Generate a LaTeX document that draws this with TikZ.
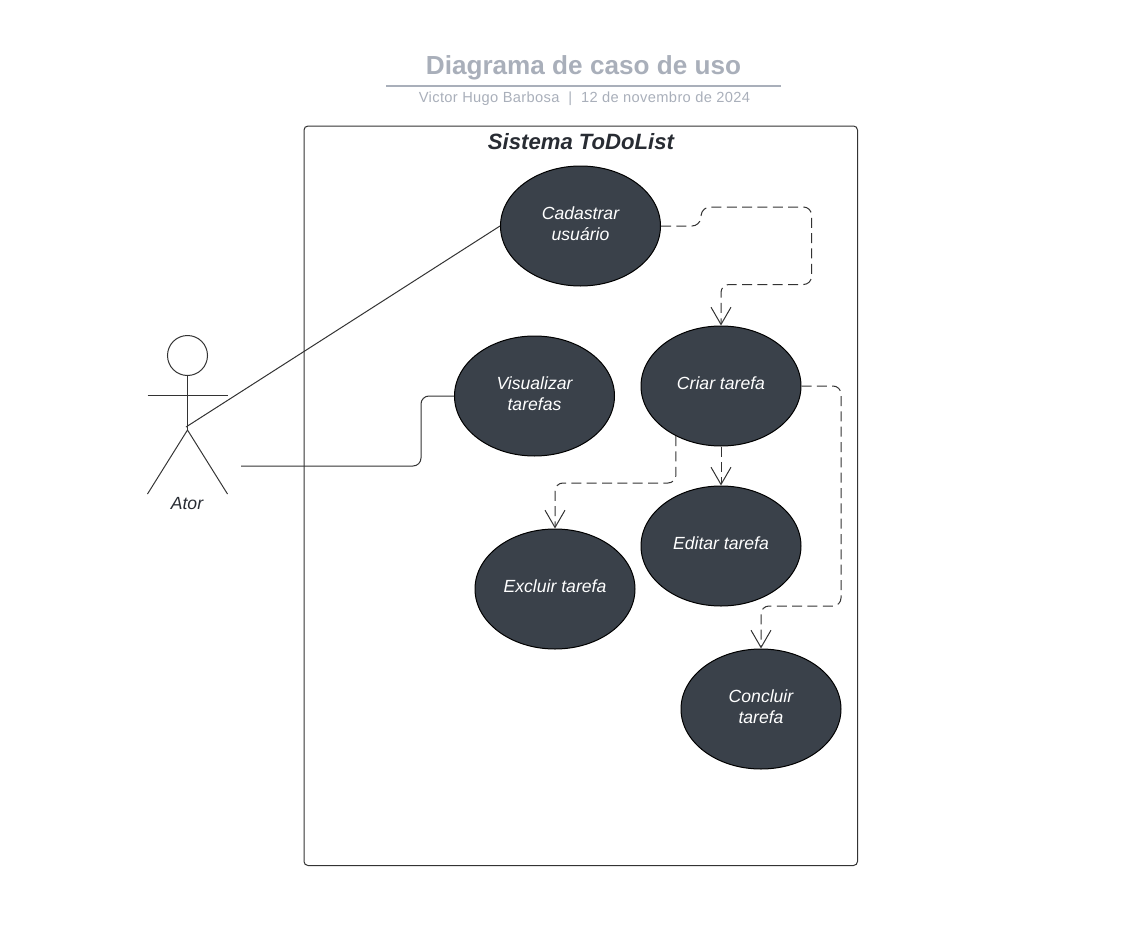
\documentclass[tikz,border=0pt]{standalone}
\usepackage{fontspec}
\setmainfont{Liberation Sans}
\newfontfamily\subfont[LetterSpace=2.4]{Liberation Sans}
\usetikzlibrary{shapes.geometric,arrows.meta}
\definecolor{ucfill}{HTML}{3A414A}
\definecolor{ucline}{HTML}{333333}
\definecolor{titlegrey}{HTML}{A9AFBA}
\definecolor{syscolor}{HTML}{282C33}
\newcommand\uctext[1]{\raisebox{-2.65pt}[0pt][0pt]{\begin{tabular}{@{}c@{}}#1\end{tabular}}}
\tikzset{
  x=0.75pt,y=-0.75pt,
  usecase/.style={ellipse,draw=black,line width=0.75pt,fill=ucfill,minimum width=120pt,minimum height=90pt,inner sep=0pt,
    text=white,font=\fontsize{13.2}{15.9}\selectfont\itshape},
  conn/.style={draw=ucline,line width=0.75pt,rounded corners=6pt},
  dep/.style={conn,dash pattern=on 7.5pt off 4pt,-{Straight Barb[length=13pt,width=15pt,line width=0.75pt]}},
  stick/.style={draw=ucline,line width=0.75pt},
}
\begin{document}
\begin{tikzpicture}
\useasboundingbox (0,0) rectangle (1122,935);
\node[inner sep=0pt,text=titlegrey,font=\fontsize{19.6}{24}\selectfont\bfseries] (title) at (583.5,68) {Diagrama de caso de uso};
\coordinate (ruleL) at (386,86);
\coordinate (ruleR) at (781,86);
\draw[titlegrey,line width=1.5pt] (ruleL) -- (ruleR);
\node[inner sep=0pt,text=titlegrey,font=\fontsize{11}{13}\subfont] (subtitle) at (584.5,99) {Victor Hugo Barbosa\ \ |\ \ 12 de novembro de 2024};

\draw[ucline,line width=0.75pt,rounded corners=3pt] (304,126) rectangle (857.5,865.5);
\node[inner sep=0pt,text=syscolor,font=\fontsize{16.6}{19}\selectfont\bfseries\itshape] (system) at (581,142) {Sistema ToDoList};

\node[usecase] (cadastrar) at (580.5,226) {\uctext{Cadastrar\\usuário}};
\node[usecase] (visualizar) at (534.5,396) {\uctext{Visualizar\\tarefas}};
\node[usecase] (criar) at (721,386) {\uctext{Criar tarefa}};
\node[usecase] (editar) at (721,546) {\uctext{Editar tarefa}};
\node[usecase] (excluir) at (555,589) {\uctext{Excluir tarefa}};
\node[usecase] (concluir) at (761,709) {\uctext{Concluir\\tarefa}};

\node[circle,stick,minimum size=30pt,inner sep=0pt] (head) at (187.5,355.5) {};
\coordinate (armL) at (147.5,395);
\coordinate (armR) at (227.5,395);
\coordinate (hip) at (187.5,430);
\coordinate (legL) at (147.5,494);
\coordinate (legR) at (227.5,494);
\coordinate (hand) at (186,427);
\coordinate (free) at (241,466);
\draw[stick] (head.south) -- (hip);
\draw[stick] (armL) -- (armR);
\draw[stick] (legL) -- (hip) -- (legR);
\node[inner sep=0pt,text=syscolor,font=\fontsize{13.2}{16}\selectfont\itshape] (ator) at (187,504) {Ator};

\draw[conn] (hand) -- (cadastrar.west);
\draw[conn] (free) -- (421,466) -- (421,396) -- (visualizar.west);

\draw[dep] (cadastrar.east) -- (700,226) -- (702,207) -- (811.5,207) -- (811.5,284.5) -- (721,284.5) -- (criar.north);
\draw[dep] (criar.east) -- (841,386) -- (841,606) -- (761,606) -- (concluir.north);
\draw[dep] (criar.south) -- (editar.north);
\draw[dep] (criar.228.5) -- (676,483) -- (555,483) -- (excluir.north);
\end{tikzpicture}
\end{document}
